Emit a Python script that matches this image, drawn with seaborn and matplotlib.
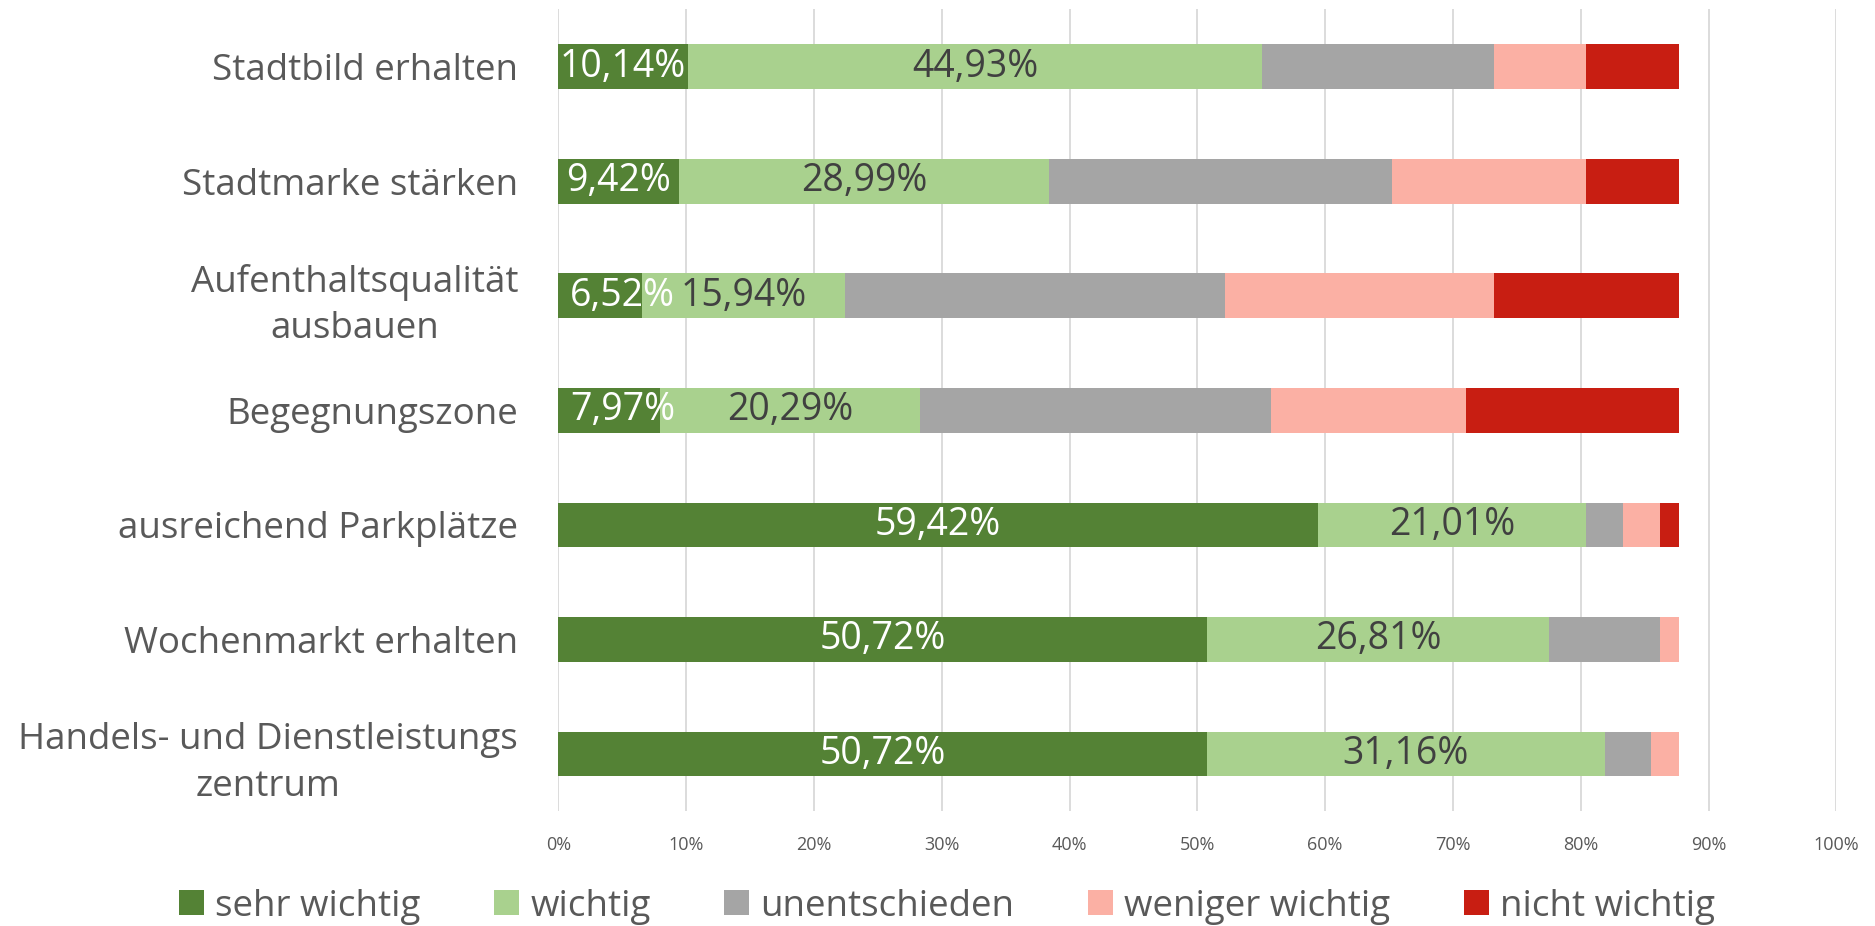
import matplotlib
matplotlib.use("Agg")
import matplotlib.pyplot as plt
import seaborn as sns
import pandas as pd
import numpy as np
from matplotlib.patches import Patch

categories = ["Stadtbild erhalten", "Stadtmarke stärken", "Aufenthaltsqualität\nausbauen",
              "Begegnungszone", "ausreichend Parkplätze", "Wochenmarkt erhalten",
              "Handels- und Dienstleistungs\nzentrum"]
series_names = ["sehr wichtig", "wichtig", "unentschieden", "weniger wichtig", "nicht wichtig"]
sehr_wichtig = [10.14, 9.42, 6.52, 7.97, 59.42, 50.72, 50.72]
wichtig = [44.93, 28.99, 15.94, 20.29, 21.01, 26.81, 31.16]
unentschieden = [18.12, 26.81, 29.71, 27.54, 2.90, 8.70, 3.62]
weniger_wichtig = [7.25, 15.22, 21.01, 15.22, 2.90, 1.45, 2.17]
nicht_wichtig = [7.25, 7.25, 14.49, 16.67, 1.45, 0.0, 0.0]
colors = ["#548235", "#A9D18E", "#A5A5A5", "#FBB0A4", "#C81E12"]
xticks = [0, 10, 20, 30, 40, 50, 60, 70, 80, 90, 100]

sns.set_style("white")
plt.rcParams["font.family"] = ["Open Sans", "DejaVu Sans"]

series = [sehr_wichtig, wichtig, unentschieden, weniger_wichtig, nicht_wichtig]
vals = np.array(series)
cum = np.cumsum(vals, axis=0)

fig = plt.figure(figsize=(18.75, 9.26), dpi=100)
ax = fig.add_axes([0.2978, 0.1239, 0.6816, 0.8659])

for i in range(len(series) - 1, -1, -1):
    df = pd.DataFrame({"cat": categories, "val": cum[i]})
    sns.barplot(data=df, x="val", y="cat", orient="h", color=colors[i],
                width=0.39, ax=ax, saturation=1, edgecolor="none", linewidth=0)

ax.set_xlim(0, 100)
ax.set_ylim(6.5, -0.5)
ax.set_xticks(xticks)
ax.set_xticklabels([f"{t}%" for t in xticks])
ax.xaxis.grid(True, color="#D9D9D9", linewidth=1.3)
ax.set_axisbelow(True)
for s in ax.spines.values():
    s.set_visible(False)
ax.set_xlabel("")
ax.set_ylabel("")
ax.tick_params(axis="y", length=0, pad=29, labelsize=26.5, labelcolor="#595959")
ax.tick_params(axis="x", length=0, pad=18, labelsize=13, labelcolor="#595959")
for t in ax.get_yticklabels():
    t.set_multialignment("center")
    t.set_linespacing(1.38)

# data labels for first two series
for j in range(len(categories)):
    v0 = sehr_wichtig[j]
    lab0 = f"{v0:.2f}%".replace(".", ",")
    if v0 < 9:
        ax.text(0.9, j, lab0, ha="left", va="center", color="white", fontsize=27)
    else:
        ax.text(v0 / 2, j, lab0, ha="center", va="center", color="white", fontsize=27)
    v1 = wichtig[j]
    lab1 = f"{v1:.2f}%".replace(".", ",")
    ax.text(v0 + v1 / 2, j, lab1, ha="center", va="center", color="#404040", fontsize=27)

handles = [Patch(facecolor=c, edgecolor="none") for c in colors]
leg = fig.legend(handles, series_names, loc="center", bbox_to_anchor=(0.505, 0.021),
                 ncol=5, frameon=False, fontsize=26.5, handlelength=0.68, handleheight=0.68,
                 handletextpad=0.3, columnspacing=2.0, labelcolor="#595959")

fig.savefig("out.png", dpi=100, facecolor="white")
